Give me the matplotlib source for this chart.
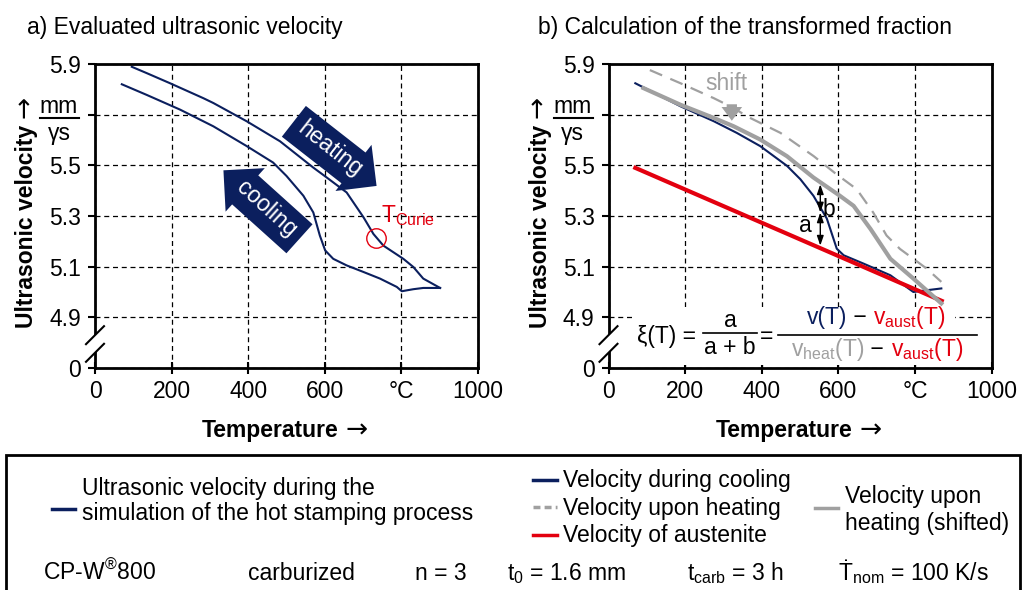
import matplotlib.pyplot as plt
from matplotlib.patches import Rectangle, Polygon
from matplotlib.lines import Line2D

plt.rcParams['font.family'] = ['Liberation Sans', 'DejaVu Sans']
plt.rcParams['mathtext.fontset'] = 'custom'
plt.rcParams['mathtext.rm'] = 'Liberation Sans'
plt.rcParams['mathtext.it'] = 'Liberation Sans:italic'
plt.rcParams['mathtext.bf'] = 'Liberation Sans:bold'
plt.rcParams['font.size'] = 16.5

NAVY = '#0b1f5e'
RED = '#e3000f'
GREY = '#a0a0a0'

# a) heating and cooling branch (T in °C, v in mm/µs)
heat_T = [96, 135, 196, 283, 309, 396, 483, 570, 605, 657, 701, 727, 753, 805, 831, 857, 901]
heat_v = [5.889, 5.864, 5.824, 5.765, 5.746, 5.674, 5.595, 5.491, 5.452, 5.393, 5.295,
          5.229, 5.183, 5.131, 5.099, 5.053, 5.016]
cool_T = [901, 857, 831, 801, 788, 744, 701, 657, 622, 601, 587, 570, 544, 500, 465,
          396, 309, 222, 135, 70]
cool_v = [5.016, 5.016, 5.011, 5.003, 5.020, 5.053, 5.079, 5.105, 5.131, 5.164, 5.223,
          5.314, 5.380, 5.458, 5.511, 5.576, 5.654, 5.720, 5.778, 5.820]
curie_T, curie_v = 734, 5.214

# b) transformed fraction
heatb_T = [108, 188, 275, 327, 362, 449, 536, 595, 648, 691, 726, 761, 796, 831, 869]
heatb_v = [5.876, 5.824, 5.765, 5.726, 5.693, 5.628, 5.536, 5.465, 5.406, 5.314, 5.223,
           5.170, 5.131, 5.092, 5.040]
shift_T = [91, 188, 275, 327, 396, 466, 535, 604, 640, 684, 736, 796, 869]
shift_v = [5.805, 5.739, 5.687, 5.654, 5.602, 5.536, 5.452, 5.380, 5.340, 5.249, 5.131,
           5.053, 4.955]
coolb_T = [70, 188, 275, 335, 396, 466, 501, 535, 570, 596, 614, 666, 736, 796, 831, 869]
coolb_v = [5.824, 5.733, 5.674, 5.628, 5.576, 5.498, 5.445, 5.380, 5.290, 5.171, 5.145,
           5.112, 5.066, 5.000, 5.007, 5.014]
aust_T = [70, 870]
aust_v = [5.490, 4.965]
ab_T = 553
ab_v = [5.425, 5.314, 5.183]  # v_heat, v, v_aust at ab_T

xticks = [0, 200, 400, 600, 800, 1000]
xlabels = ['0', '200', '400', '600', '°C', '1000']
yticks = [4.7, 4.9, 5.1, 5.3, 5.5, 5.7, 5.9]   # 4.7 stands for the 0 below the break
ylabels = ['0', '4.9', '5.1', '5.3', '5.5', '', '5.9']

W, H = 1027, 590
fig = plt.figure(figsize=(W / 100, H / 100), dpi=100)
renderer = fig.canvas.get_renderer()


def fx(x):
    return x / W


def fy(y):
    return 1 - y / H


def arrow_label(text, x, y, vertical=False):
    # bold word followed by a thin arrow, starting at pixel (x, y) on the baseline
    rot = 90 if vertical else 0
    t = fig.text(fx(x), fy(y), text, fontweight='bold', rotation=rot,
                 rotation_mode='anchor', ha='left', va='baseline')
    ext = t.get_window_extent(renderer)
    gap = 7
    if vertical:
        fig.text(fx(x - 1), fy(y - ext.height - gap), '→', family='DejaVu Sans', fontsize=19,
                 rotation=rot, rotation_mode='anchor', ha='left', va='baseline')
    else:
        fig.text(fx(x + ext.width + gap), fy(y + 1), '→', family='DejaVu Sans', fontsize=19,
                 ha='left', va='baseline')


def setup(ax, off):
    ax.set_xlim(0, 1000)
    ax.set_ylim(4.7, 5.9)
    ax.set_xticks(xticks, xlabels)
    ax.set_yticks(yticks, ylabels)
    ax.grid(True, color='black', linestyle=(0, (4, 3)), linewidth=0.9)
    ax.set_axisbelow(True)
    ax.tick_params(axis='x', direction='inout', length=8, width=1.5, pad=5)
    ax.tick_params(axis='y', direction='out', length=5, width=1.5, pad=5)
    for s in ax.spines.values():
        s.set_linewidth(2)
    # axis break on the left spine
    dx, dy = 9 / 383, 9 / 304
    c1, c2 = 0.108, 0.050
    ax.add_patch(Polygon([(-dx, c2 - dy), (dx, c2 + dy), (dx, c1 + dy), (-dx, c1 - dy)],
                         closed=True, transform=ax.transAxes, fc='white', ec='none',
                         clip_on=False, zorder=5))
    for c in (c1, c2):
        ax.plot([-dx, dx], [c - dy, c + dy], color='black', lw=1.5,
                transform=ax.transAxes, clip_on=False, zorder=6)
    arrow_label('Temperature', 202 + off, 437)
    arrow_label('Ultrasonic velocity', 33 + off, 328, vertical=True)
    fig.text(fx(59 + off), fy(113), 'mm', ha='center', va='baseline')
    fig.add_artist(Line2D([fx(40 + off), fx(79 + off)], [fy(118), fy(118)],
                          color='black', lw=1.5))
    fig.text(fx(59 + off), fy(140), 'γs', ha='center', va='baseline')


axa = fig.add_axes([fx(95), fy(368), 383 / W, 304 / H])
axb = fig.add_axes([fx(608.5), fy(368), 383 / W, 304 / H])
setup(axa, 0)
setup(axb, 513.5)

fig.text(fx(27), fy(34), 'a) Evaluated ultrasonic velocity', va='baseline')
fig.text(fx(538), fy(34), 'b) Calculation of the transformed fraction', va='baseline')

# ---- panel a
axa.plot(heat_T, heat_v, color=NAVY, lw=1.5)
axa.plot(cool_T, cool_v, color=NAVY, lw=1.5)
axa.text(613, 5.563, 'heating', rotation=-38, rotation_mode='anchor', ha='center',
         va='center', color='white',
         bbox=dict(boxstyle='rarrow,pad=0.35', fc=NAVY, ec='none'))
axa.text(448, 5.327, 'cooling', rotation=-42, rotation_mode='anchor', ha='center',
         va='center', color='white',
         bbox=dict(boxstyle='larrow,pad=0.35', fc=NAVY, ec='none'))
axa.plot([curie_T], [curie_v], 'o', ms=14, mfc='none', mec=RED, mew=1.0)
axa.text(748, 5.275, r'T$_{\mathrm{Curie}}$', color=RED, ha='left', va='baseline')

# ---- panel b
axb.plot(coolb_T, coolb_v, color=NAVY, lw=1.5)
axb.plot(heatb_T, heatb_v, color=GREY, lw=1.6, ls=(0, (6, 4)))
axb.plot(aust_T, aust_v, color=RED, lw=3)
axb.plot(shift_T, shift_v, color=GREY, lw=3)
arr = dict(arrowstyle='<|-|>,head_width=0.12,head_length=0.35', color='black', lw=1.0,
           shrinkA=0, shrinkB=0)
axb.annotate('', xy=(ab_T, ab_v[0]), xytext=(ab_T, ab_v[1]), arrowprops=arr)
axb.annotate('', xy=(ab_T, ab_v[1]), xytext=(ab_T, ab_v[2]), arrowprops=arr)
axb.text(ab_T + 5, ab_v[1] + 0.012, 'b', ha='left', va='center')
axb.text(ab_T - 22, ab_v[1] - 0.05, 'a', ha='right', va='center')
axb.text(309, 5.824, 'shift', color=GREY, ha='center', va='center')
axb.annotate('', xy=(322, 5.665), xytext=(322, 5.752),
             arrowprops=dict(arrowstyle='simple,head_width=0.9,head_length=0.6,tail_width=0.45',
                             color=GREY, lw=0))

# formula with white background
fig.add_artist(Rectangle((fx(632), fy(365)), (955 - 632) / W, (365 - 307) / H,
                         transform=fig.transFigure, fc='white', ec='none', zorder=2))
fig.text(fx(637), fy(343), 'ξ(T) =', va='baseline', ha='left', zorder=4)
fig.text(fx(730), fy(327), 'a', va='baseline', ha='center', zorder=4)
fig.add_artist(Line2D([fx(703), fx(757)], [fy(333), fy(333)], color='black', lw=1.2, zorder=4))
fig.text(fx(730), fy(354), 'a + b', va='baseline', ha='center', zorder=4)
fig.text(fx(767), fy(343), '=', va='baseline', ha='center', zorder=4)
fig.add_artist(Line2D([fx(778), fx(977)], [fy(335), fy(335)], color='black', lw=1.2, zorder=4))


def colored_line(parts, xc, ybase):
    placed = []
    x = 0
    for s, c in parts:
        t = fig.text(0, fy(ybase), s, color=c, va='baseline', ha='left', zorder=4)
        placed.append((t, x))
        x += t.get_window_extent(renderer).width
    x0 = xc - x / 2
    for t, o in placed:
        t.set_x(fx(x0 + o))


colored_line([('v(T)', NAVY), (' − ', 'black'), (r'v$_{\mathrm{aust}}$(T)', RED)], 876, 324)
colored_line([(r'v$_{\mathrm{heat}}$(T)', GREY), (' − ', 'black'),
              (r'v$_{\mathrm{aust}}$(T)', RED)], 877, 356)

# ---- legend box
fig.add_artist(Rectangle((fx(6), fy(600)), (1020 - 6) / W, (600 - 455) / H,
                         transform=fig.transFigure, fc='none', ec='black', lw=2))


def marker(x0, x1, y, color, ls='-'):
    fig.add_artist(Line2D([fx(x0), fx(x1)], [fy(y), fy(y)], color=color, lw=2.5, ls=ls))


marker(52, 75, 509, NAVY)
fig.text(fx(82), fy(495), 'Ultrasonic velocity during the', va='baseline')
fig.text(fx(82), fy(520), 'simulation of the hot stamping process', va='baseline')
marker(533, 557, 480, NAVY)
fig.text(fx(563), fy(487), 'Velocity during cooling', va='baseline')
marker(533, 557, 507, GREY, ls=(0, (2, 1.2)))
fig.text(fx(563), fy(515), 'Velocity upon heating', va='baseline')
marker(533, 557, 535, RED)
fig.text(fx(563), fy(542), 'Velocity of austenite', va='baseline')
marker(815, 838, 508, GREY)
fig.text(fx(845), fy(503), 'Velocity upon', va='baseline')
fig.text(fx(845), fy(530), 'heating (shifted)', va='baseline')

fig.text(fx(43), fy(580), r'CP-W$^{\mathrm{®}}$800', va='baseline')
fig.text(fx(248), fy(580), 'carburized', va='baseline')
fig.text(fx(415), fy(580), 'n = 3', va='baseline')
fig.text(fx(507), fy(580), r't$_{\mathrm{0}}$ = 1.6 mm', va='baseline')
fig.text(fx(687), fy(580), r't$_{\mathrm{carb}}$ = 3 h', va='baseline')
fig.text(fx(838), fy(580), r'Ṫ$_{\mathrm{nom}}$ = 100 K/s', va='baseline')

fig.savefig('out.png', dpi=100)
